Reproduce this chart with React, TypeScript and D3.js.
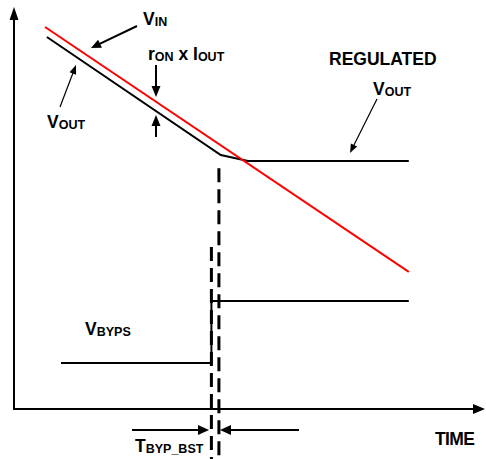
import React from "react";
import * as d3 from "d3";

// Schematic timing data (arbitrary units: time 0..100, voltage 0..100)
const vinT = [6.6, 84];
const vinV = [95.5, 34.3];
const voutT = [7, 44, 49.8, 84];
const voutV = [93, 63.5, 62, 62];
const vbypsT = [10, 42, 42, 84];
const vbypsV = [11.5, 11.5, 27, 27];
const markerT = [42, 43.6];
const markerTop = [40.5, 60.2];
const markerBottom = -12.5;

const W = 486;
const H = 459;
const FONT = "'Liberation Sans', Arial, Helvetica, sans-serif";
const MAIN = 17.5;
const SUB = 12.5;

const x = d3.scaleLinear().domain([0, 100]).range([14, 484]);
const y = d3.scaleLinear().domain([0, 100]).range([409, 9]);

type P = { t: number; v: number };
const zip = (ts: number[], vs: number[]): P[] => ts.map((t, i) => ({ t, v: vs[i] }));
const line = d3
  .line<P>()
  .x((d) => x(d.t))
  .y((d) => y(d.v));

function head(x1: number, y1: number, x2: number, y2: number, len: number, hw: number) {
  const dx = x2 - x1;
  const dy = y2 - y1;
  const L = Math.hypot(dx, dy);
  const ux = dx / L;
  const uy = dy / L;
  const bx = x2 - ux * len;
  const by = y2 - uy * len;
  const px = -uy;
  const py = ux;
  return `${x2},${y2} ${bx + px * hw},${by + py * hw} ${bx - px * hw},${by - py * hw}`;
}

function Arrow({ x1, y1, x2, y2, len = 9, hw = 4, sw = 1.5 }: any) {
  const L = Math.hypot(x2 - x1, y2 - y1);
  const ex = x2 - ((x2 - x1) / L) * (len - 1);
  const ey = y2 - ((y2 - y1) / L) * (len - 1);
  return (
    <g>
      <line x1={x1} y1={y1} x2={ex} y2={ey} stroke="#000" strokeWidth={sw} />
      <polygon points={head(x1, y1, x2, y2, len, hw)} fill="#000" />
    </g>
  );
}

function Label({ x: lx, y: ly, main, sub }: any) {
  return (
    <text x={lx} y={ly} fontFamily={FONT} fontWeight="bold" fontSize={MAIN} fill="#000">
      {main}
      <tspan fontSize={SUB} dy={1}>{sub}</tspan>
    </text>
  );
}

export default function App() {
  const x0 = x(0);
  const y0 = y(0);
  return (
    <svg
      width={W}
      height={H}
      viewBox={`0 0 ${W} ${H}`}
      style={{ position: "absolute", left: 0, top: 0, background: "#fff" }}
    >
      <rect width={W} height={H} fill="#fff" />
      {/* axes */}
      <line x1={x0} y1={y0} x2={x0} y2={19} stroke="#000" strokeWidth={2} />
      <polygon points={head(x0, y0, x0, 7, 13, 4.5)} fill="#000" />
      <line x1={x0 - 1} y1={y0} x2={474} y2={y0} stroke="#000" strokeWidth={2} />
      <polygon points={head(x0, y0, 485, y0, 12, 5)} fill="#000" />

      {/* dashed markers */}
      {markerT.map((t, i) => (
        <line
          key={i}
          x1={x(t)}
          x2={x(t)}
          y1={y(markerTop[i])}
          y2={y(markerBottom)}
          stroke="#000"
          strokeWidth={3}
          strokeDasharray="14,7"
        />
      ))}

      {/* series */}
      <path d={line(zip(vbypsT, vbypsV)) || ""} fill="none" stroke="#000" strokeWidth={2} />
      <path d={line(zip(voutT, voutV)) || ""} fill="none" stroke="#000" strokeWidth={2} />
      <path d={line(zip(vinT, vinV)) || ""} fill="none" stroke="#ff0000" strokeWidth={2} />

      {/* annotation arrows */}
      <Arrow x1={137} y1={26} x2={91} y2={48} len={10} hw={4.5} sw={2} />
      <Arrow x1={60} y1={107} x2={76} y2={65} len={9} hw={3.5} sw={1.2} />
      <Arrow x1={377} y1={99} x2={350} y2={153} len={9} hw={3.5} sw={1.2} />
      <Arrow x1={156} y1={65} x2={156} y2={97} len={11} hw={4.5} sw={2} />
      <Arrow x1={156} y1={137} x2={156} y2={115} len={11} hw={4.5} sw={2} />
      <Arrow x1={132} y1={430} x2={209} y2={430} len={11} hw={5} sw={2} />
      <Arrow x1={299} y1={430} x2={220} y2={430} len={11} hw={5} sw={2} />

      {/* labels */}
      <Label x={143} y={25} main="V" sub="IN" />
      <text x={148} y={60} fontFamily={FONT} fontWeight="bold" fontSize={MAIN} fill="#000">
        r<tspan fontSize={SUB} dy={1}>ON</tspan>
        <tspan dy={-1}> x I</tspan>
        <tspan fontSize={SUB} dy={1}>OUT</tspan>
      </text>
      <text x={329} y={65} fontFamily={FONT} fontWeight="bold" fontSize={MAIN} fill="#000">
        REGULATED
      </text>
      <Label x={373} y={95} main="V" sub="OUT" />
      <Label x={47} y={128} main="V" sub="OUT" />
      <Label x={85} y={335} main="V" sub="BYPS" />
      <Label x={135} y={452} main="T" sub="BYP_BST" />
      <text x={435} y={445} fontFamily={FONT} fontWeight="bold" fontSize={MAIN} fill="#000" letterSpacing={-0.6}>
        TIME
      </text>
    </svg>
  );
}
